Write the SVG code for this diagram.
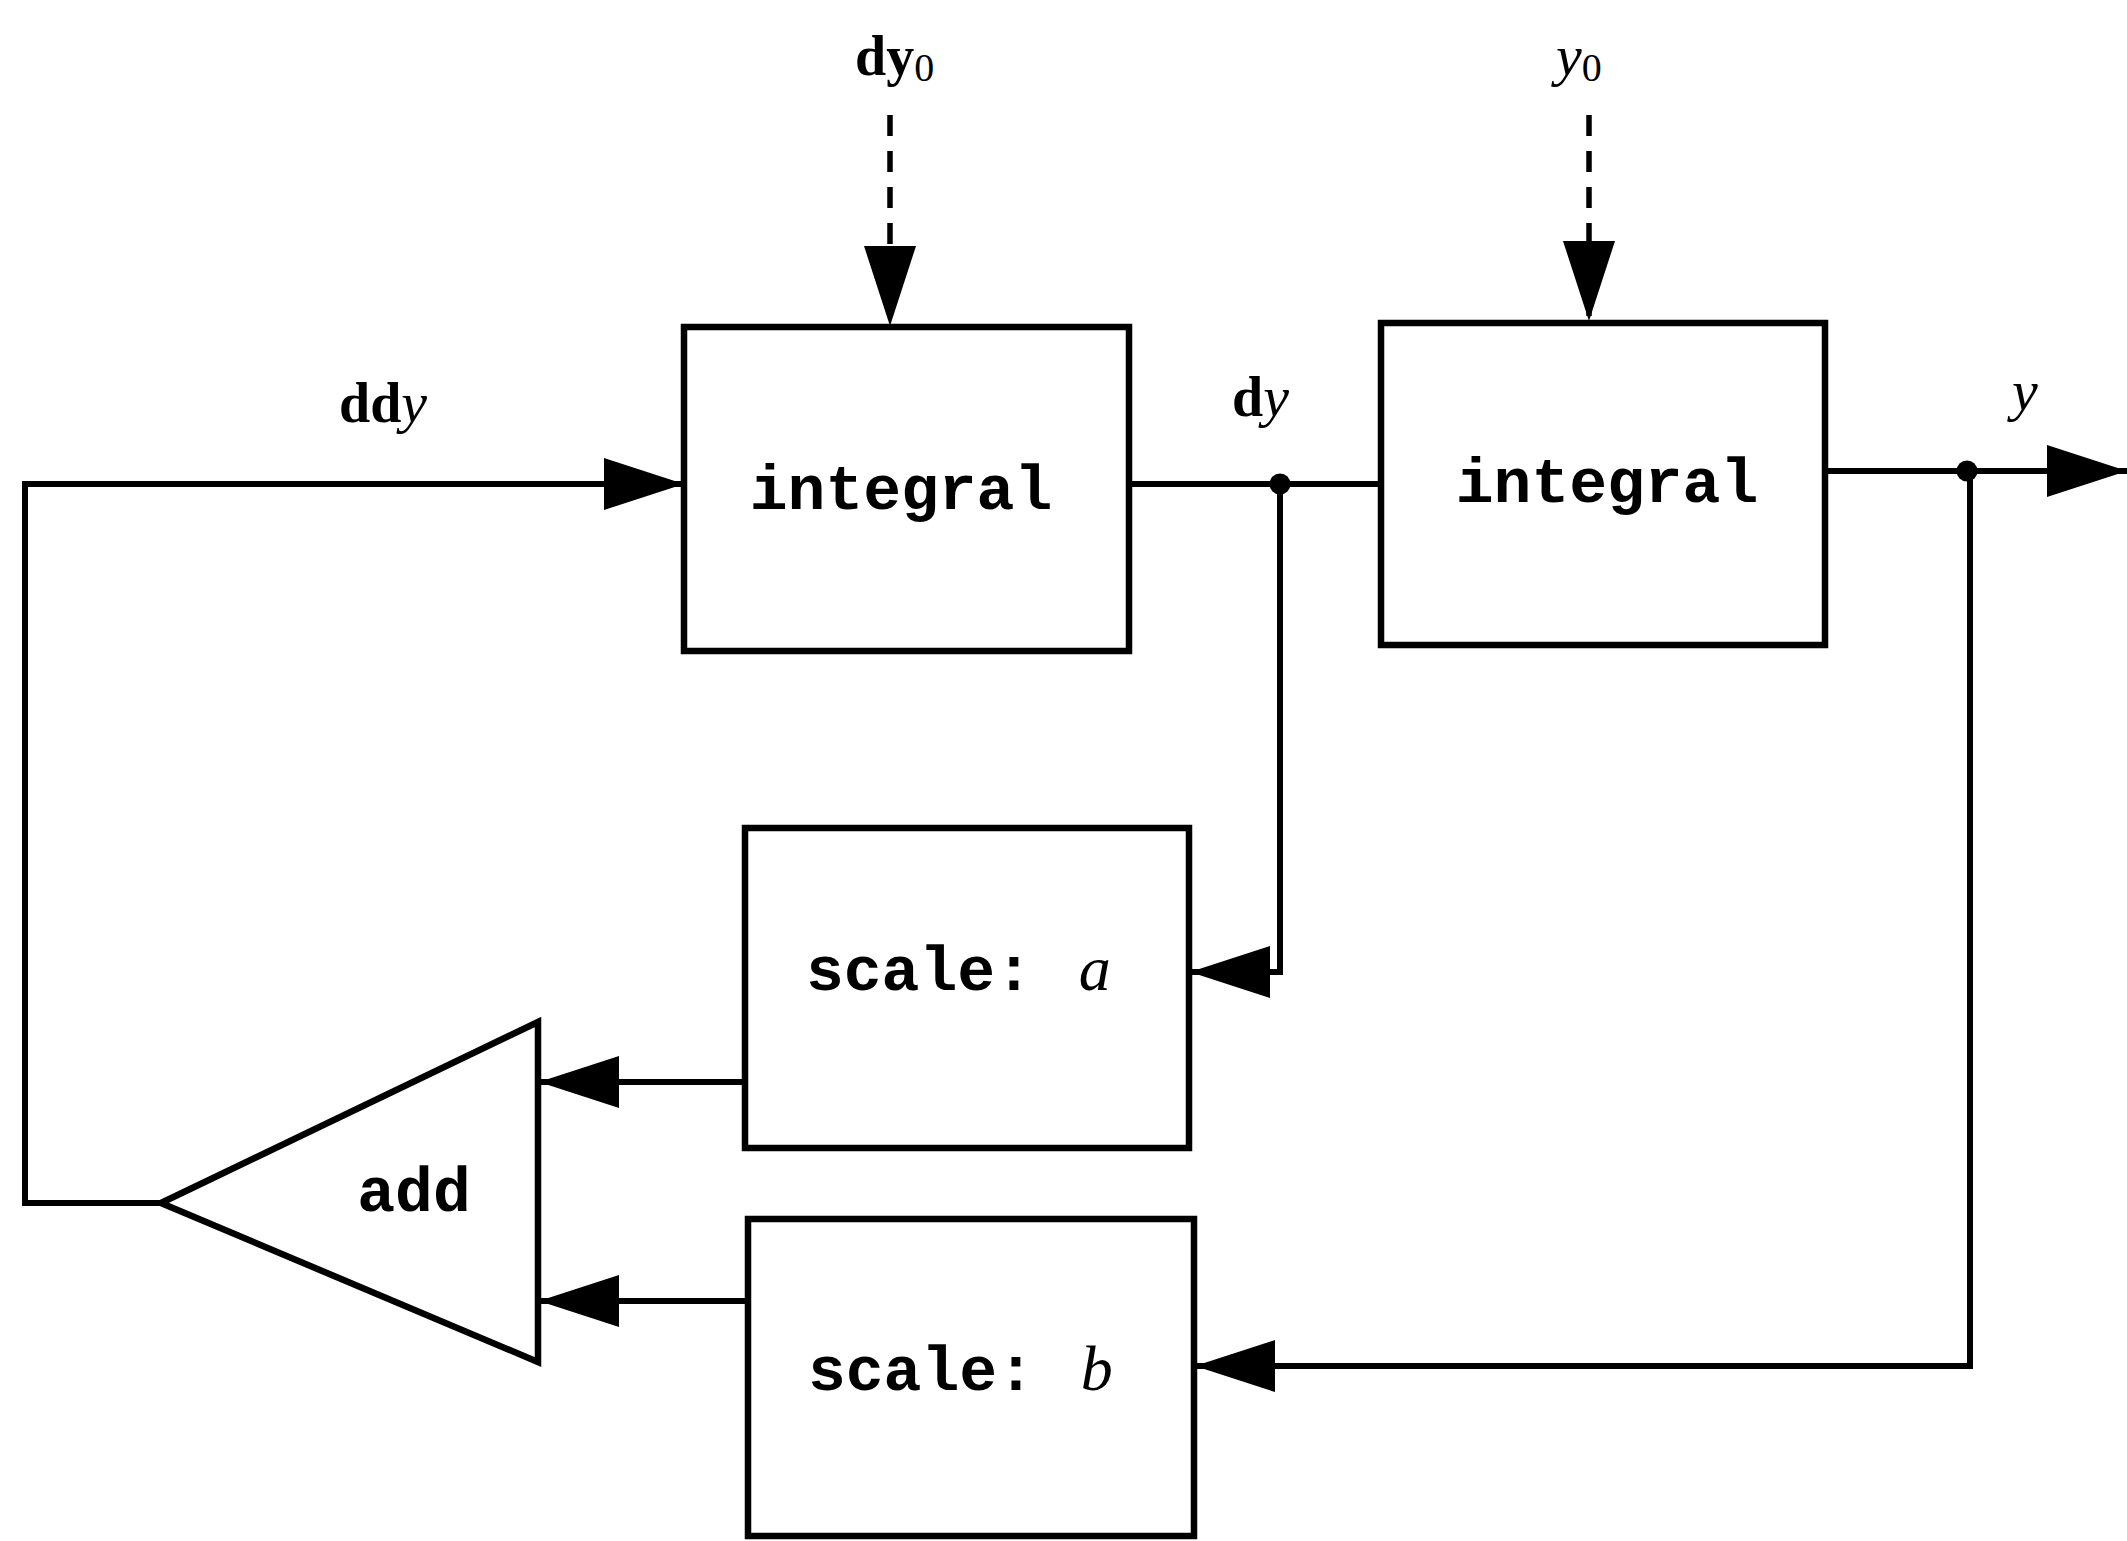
<svg xmlns="http://www.w3.org/2000/svg" width="2127" height="1541" viewBox="0 0 2127 1541">
<style>
.box{fill:#fff;stroke:#000;stroke-width:6.5}
.ln{fill:none;stroke:#000;stroke-width:6}
.dash{fill:none;stroke:#000;stroke-width:5.5;stroke-dasharray:21 15}
.mono{font-family:"Liberation Mono","Courier New",monospace;font-weight:bold;font-size:63px;fill:#000}
.ser{font-family:"Liberation Serif","Times New Roman",serif;font-size:56px;fill:#000;font-weight:bold}
.it{font-style:italic;font-weight:normal}
</style>
<defs>
<marker id="arr" viewBox="0 0 80 52" refX="80" refY="26" markerWidth="80" markerHeight="52" markerUnits="userSpaceOnUse" orient="auto">
<path d="M0,0 L80,26 L0,52 Z" fill="#000"/>
</marker>
</defs>
<rect width="2127" height="1541" fill="#fff"/>
<g id="connectors">
<line class="dash" x1="890" y1="115" x2="890" y2="326" marker-end="url(#arr)"/>
<line class="dash" x1="1589" y1="115" x2="1589" y2="321" marker-end="url(#arr)"/>
<polyline class="ln" points="161,1203 25,1203 25,484 684,484" marker-end="url(#arr)"/>
<line class="ln" x1="1129" y1="484" x2="1381" y2="484"/>
<line class="ln" x1="1825" y1="471" x2="2127" y2="471" marker-end="url(#arr)"/>
<polyline class="ln" points="1280,484 1280,972 1190,972" marker-end="url(#arr)"/>
<polyline class="ln" points="1970,471 1970,1366 1195,1366" marker-end="url(#arr)"/>
<line class="ln" x1="745" y1="1082" x2="539" y2="1082" marker-end="url(#arr)"/>
<line class="ln" x1="748" y1="1301" x2="539" y2="1301" marker-end="url(#arr)"/>
<circle cx="1280" cy="484" r="10.5" fill="#000"/>
<circle cx="1967" cy="471" r="10.5" fill="#000"/>
</g>
<g id="integral1">
<rect class="box" x="684" y="327" width="445" height="324"/>
<text class="mono" x="901" y="509" text-anchor="middle">integral</text>
</g>
<g id="integral2">
<rect class="box" x="1381" y="323" width="444" height="322"/>
<text class="mono" x="1607" y="502" text-anchor="middle">integral</text>
</g>
<g id="scaleA">
<rect class="box" x="745" y="828" width="444" height="320"/>
<text class="mono" x="806" y="990">scale: <tspan class="ser it" style="font-size:64px" dx="8">a</tspan></text>
</g>
<g id="scaleB">
<rect class="box" x="748" y="1219" width="446" height="317"/>
<text class="mono" x="808" y="1390">scale: <tspan class="ser it" style="font-size:64px" dx="8">b</tspan></text>
</g>
<g id="add">
<polygon class="box" points="161,1203 538,1022 538,1362"/>
<text class="mono" x="414" y="1211" text-anchor="middle">add</text>
</g>
<g id="labels">
<text class="ser" x="855" y="75">dy<tspan font-size="40" font-weight="normal" dy="6">0</tspan></text>
<text class="ser" x="1556" y="75"><tspan class="it" style="font-size:58px">y</tspan><tspan font-size="40" font-weight="normal" dy="6">0</tspan></text>
<text class="ser" x="339" y="422">dd<tspan class="it" style="font-size:58px">y</tspan></text>
<text class="ser" x="1232" y="416">d<tspan class="it" style="font-size:58px">y</tspan></text>
<text class="ser" x="2012" y="410"><tspan class="it" style="font-size:58px">y</tspan></text>
</g>
</svg>
